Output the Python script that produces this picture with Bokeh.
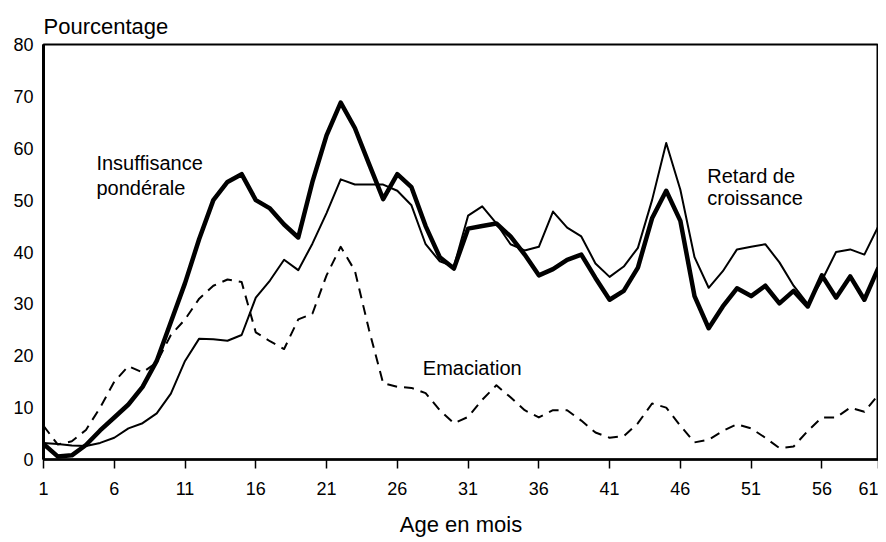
from bokeh.plotting import figure
from bokeh.models import Range1d, FixedTicker
from bokeh.core.properties import value
from bokeh.embed import file_html
from bokeh.resources import INLINE

# Age in months (last point drawn at the tick labelled "61")
months = list(range(1, 61))

# Insuffisance pondérale (thick line)
insuffisance = [3.0, 0.6, 0.8, 2.8, 5.6, 8.1, 10.6, 14.0, 19.0, 26.5,
                34.0, 42.5, 50.0, 53.5, 55.0, 50.0, 48.4, 45.3, 42.8, 53.5,
                62.5, 68.8, 63.9, 57.0, 50.2, 55.0, 52.5, 45.0, 39.0, 36.8,
                44.5, 45.0, 45.5, 43.0, 39.5, 35.5, 36.7, 38.5, 39.5, 35.0,
                30.8, 32.5, 37.0, 46.5, 51.8, 46.0, 31.5, 25.3, 29.5, 33.0,
                31.5, 33.5, 30.1, 32.5, 29.5, 35.5, 31.2, 35.3, 30.8, 37.0]

# Retard de croissance (thin line)
retard = [3.2, 3.0, 2.7, 2.6, 3.2, 4.2, 6.0, 7.0, 8.9, 12.7,
          19.0, 23.3, 23.2, 22.9, 24.0, 31.2, 34.5, 38.5, 36.5, 41.6,
          47.5, 54.0, 53.0, 53.0, 53.0, 51.8, 49.0, 41.5, 38.2, 37.2,
          47.0, 48.8, 45.5, 41.5, 40.3, 41.0, 47.8, 44.7, 43.0, 37.8,
          35.2, 37.2, 40.8, 50.0, 61.0, 52.0, 39.0, 33.1, 36.3, 40.5,
          41.0, 41.5, 38.0, 33.5, 30.0, 34.5, 40.0, 40.5, 39.5, 45.0]

# Emaciation (dashed line)
emaciation = [6.5, 2.9, 3.5, 5.7, 10.0, 15.0, 18.0, 16.8, 18.7, 24.0,
              27.0, 31.0, 33.5, 34.7, 34.2, 24.5, 22.8, 21.3, 27.0, 28.1,
              35.5, 41.0, 36.4, 25.0, 14.7, 14.0, 13.8, 12.8, 9.5, 7.0,
              8.2, 11.5, 14.3, 12.0, 9.5, 8.1, 9.5, 9.5, 7.5, 5.2,
              4.2, 4.5, 7.0, 10.8, 10.0, 6.5, 3.3, 3.8, 5.5, 6.8,
              6.0, 4.2, 2.2, 2.5, 5.5, 8.1, 8.1, 10.0, 9.2, 12.5]

x_tick_pos = [1, 6, 11, 16, 21, 26, 31, 36, 41, 46, 51, 56, 60]
x_tick_labels = ["1", "6", "11", "16", "21", "26", "31", "36", "41", "46", "51", "56", "61"]
y_ticks = [0, 10, 20, 30, 40, 50, 60, 70, 80]

labels_text = ["Insuffisance", "pondérale", "Retard de", "croissance", "Emaciation"]
labels_x = [4.74, 4.74, 47.9, 47.9, 27.8]
labels_y = [57.2, 52.4, 54.7, 50.5, 17.7]

FONT = "Liberation Sans"

p = figure(width=878, height=541, output_backend="svg", toolbar_location=None,
           x_range=Range1d(1, 60), y_range=Range1d(0, 80),
           min_border_left=43, min_border_right=0, min_border_top=44, min_border_bottom=82,
           title="Pourcentage")
p.title.text_font = FONT
p.title.text_font_size = "22px"
p.title.text_font_style = "normal"
p.title.text_color = "black"
p.title.align = "left"
p.title.standoff = 12

p.grid.visible = False
p.outline_line_color = "black"
p.outline_line_width = 2
p.background_fill_color = "white"
p.border_fill_color = "white"

p.line(months, retard, line_color="black", line_width=2, line_join="round")
p.line(months, insuffisance, line_color="black", line_width=4.5, line_join="round")
p.line(months, emaciation, line_color="black", line_width=2, line_dash="10 7",
       line_join="round")

p.text(labels_x, labels_y, text=labels_text, text_font=value(FONT),
       text_font_size="20px", text_color="black",
       text_align="left", text_baseline="alphabetic")

xa = p.xaxis[0]
xa.ticker = FixedTicker(ticks=x_tick_pos)
xa.major_label_overrides = {pos: lab for pos, lab in zip(x_tick_pos, x_tick_labels)}
xa.axis_label = "Age en mois"
xa.axis_label_text_font = FONT
xa.axis_label_text_font_size = "22px"
xa.axis_label_text_font_style = "normal"
xa.axis_label_text_color = "black"
xa.axis_label_standoff = 14
xa.major_label_text_font = FONT
xa.major_label_text_font_size = "18px"
xa.major_label_text_color = "black"
xa.major_label_standoff = 13
xa.axis_line_width = 2.5
xa.major_tick_out = 9
xa.major_tick_in = 0
xa.major_tick_line_width = 1.5
xa.minor_tick_line_color = None

ya = p.yaxis[0]
ya.ticker = FixedTicker(ticks=y_ticks)
ya.major_label_text_font = FONT
ya.major_label_text_font_size = "18px"
ya.major_label_text_color = "black"
ya.major_label_standoff = 10
ya.axis_line_width = 3
ya.major_tick_out = 0
ya.major_tick_in = 0
ya.minor_tick_line_color = None

open("out.html", "w").write(file_html(p, INLINE))
